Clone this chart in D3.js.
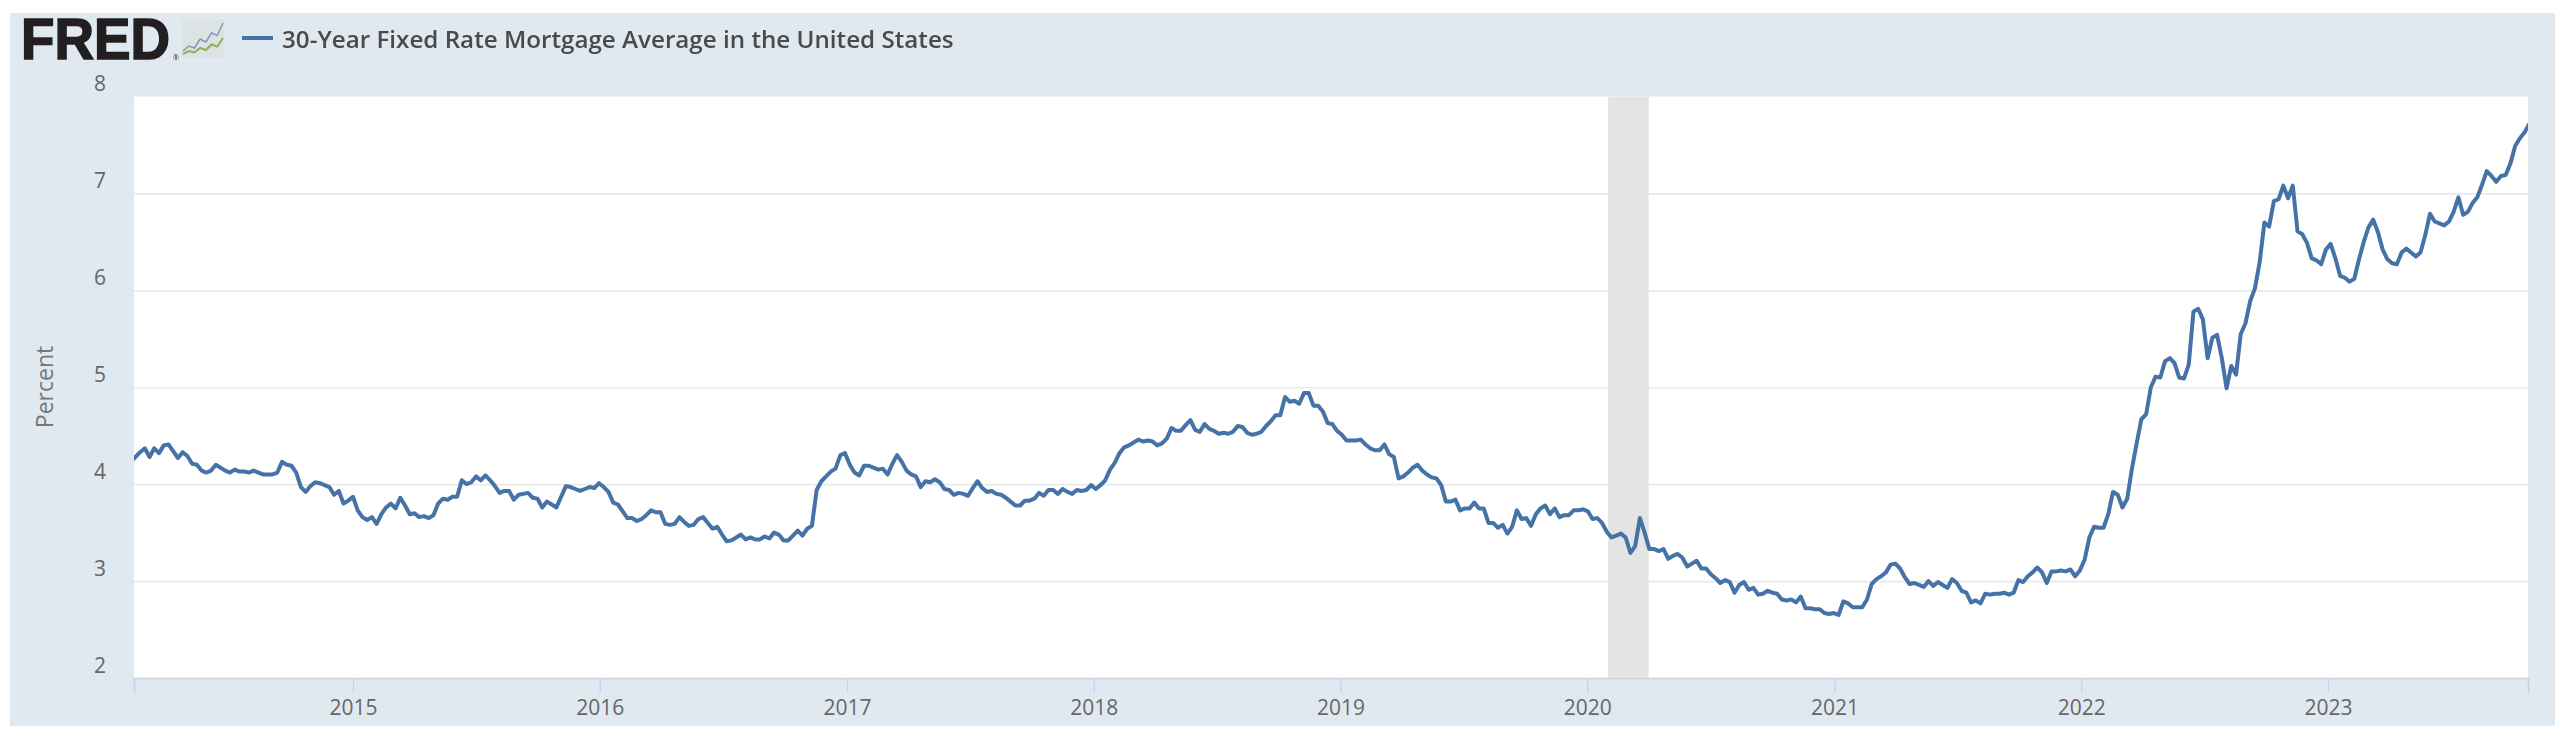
<!DOCTYPE html>
<html>
<head>
<meta charset="utf-8">
<script src="https://cdn.jsdelivr.net/npm/d3@7"></script>
<style>
  html, body { margin: 0; padding: 0; background: #fff; }
  svg { display: block; filter: blur(0.55px); }
  text { font-family: "Open Sans", sans-serif; }
</style>
</head>
<body>
<svg width="2560" height="737"></svg>
<script>
// weekly values, first one is the Thursday 2014-02-06
const rates2014 = [4.23,4.28,4.33,4.37,4.28,4.37,4.32,4.40,4.41,4.34,4.27,4.33,4.29,4.21,4.20,4.14,4.12,4.14,4.20,4.17,4.14,4.12,4.15,4.13,4.13,4.12,4.14,4.12,4.10,4.10,4.10,4.12,4.23,4.20,4.19,4.12,3.97,3.92,3.98,4.02,4.01,3.99,3.97,3.89,3.93,3.80,3.83,3.87];
const rates2015 = [3.73,3.66,3.63,3.66,3.59,3.69,3.76,3.80,3.75,3.86,3.78,3.69,3.70,3.66,3.67,3.65,3.68,3.80,3.85,3.84,3.87,3.87,4.04,4.00,4.02,4.08,4.04,4.09,4.04,3.98,3.91,3.93,3.93,3.84,3.89,3.90,3.91,3.86,3.85,3.76,3.82,3.79,3.76,3.87,3.98,3.97,3.95,3.93,3.95,3.97,3.96,4.01];
const rates2016 = [3.97,3.92,3.81,3.79,3.72,3.65,3.65,3.62,3.64,3.68,3.73,3.71,3.71,3.59,3.58,3.59,3.66,3.61,3.57,3.58,3.64,3.66,3.60,3.54,3.56,3.48,3.41,3.42,3.45,3.48,3.43,3.45,3.43,3.43,3.46,3.44,3.50,3.48,3.42,3.42,3.47,3.52,3.47,3.54,3.57,3.94,4.03,4.08,4.13,4.16,4.30,4.32];
const rates2017 = [4.20,4.12,4.09,4.19,4.19,4.17,4.15,4.16,4.10,4.21,4.30,4.23,4.14,4.10,4.08,3.97,4.03,4.02,4.05,4.02,3.95,3.94,3.89,3.91,3.90,3.88,3.96,4.03,3.96,3.92,3.93,3.90,3.89,3.86,3.82,3.78,3.78,3.83,3.83,3.85,3.91,3.88,3.94,3.94,3.90,3.95,3.92,3.90,3.94,3.93,3.94,3.99];
const rates2018 = [3.95,3.99,4.04,4.15,4.22,4.32,4.38,4.40,4.43,4.46,4.44,4.45,4.44,4.40,4.42,4.47,4.58,4.55,4.55,4.61,4.66,4.56,4.54,4.62,4.57,4.55,4.52,4.53,4.52,4.54,4.60,4.59,4.53,4.51,4.52,4.54,4.60,4.65,4.71,4.71,4.90,4.85,4.86,4.83,4.94,4.94,4.81,4.81,4.75,4.63,4.62,4.55];
const rates2019 = [4.51,4.45,4.45,4.45,4.46,4.41,4.37,4.35,4.35,4.41,4.31,4.28,4.06,4.08,4.12,4.17,4.20,4.14,4.10,4.07,4.06,3.99,3.82,3.82,3.84,3.73,3.75,3.75,3.81,3.75,3.75,3.60,3.60,3.55,3.58,3.49,3.56,3.73,3.64,3.65,3.57,3.69,3.75,3.78,3.69,3.75,3.66,3.68,3.68,3.73,3.73,3.74];
const rates2020 = [3.72,3.64,3.65,3.60,3.51,3.45,3.47,3.49,3.45,3.29,3.36,3.65,3.50,3.33,3.33,3.31,3.33,3.23,3.26,3.28,3.24,3.15,3.18,3.21,3.13,3.13,3.07,3.03,2.98,3.01,2.99,2.88,2.96,2.99,2.91,2.93,2.86,2.87,2.90,2.88,2.87,2.81,2.80,2.81,2.78,2.84,2.72,2.72,2.71,2.71,2.67,2.66,2.67];
const rates2021 = [2.65,2.79,2.77,2.73,2.73,2.73,2.81,2.97,3.02,3.05,3.09,3.17,3.18,3.13,3.04,2.97,2.98,2.96,2.94,3.00,2.95,2.99,2.96,2.93,3.02,2.98,2.90,2.88,2.78,2.80,2.77,2.87,2.86,2.87,2.87,2.88,2.86,2.88,3.01,2.99,3.05,3.09,3.14,3.09,2.98,3.10,3.10,3.11,3.10,3.12,3.05,3.11];
const rates2022 = [3.22,3.45,3.56,3.55,3.55,3.69,3.92,3.89,3.76,3.85,4.16,4.42,4.67,4.72,5.00,5.11,5.10,5.27,5.30,5.25,5.10,5.09,5.23,5.78,5.81,5.70,5.30,5.51,5.54,5.30,4.99,5.22,5.13,5.55,5.66,5.89,6.02,6.29,6.70,6.66,6.92,6.94,7.08,6.95,7.08,6.61,6.58,6.49,6.33,6.31,6.27,6.42];
const rates2023 = [6.48,6.33,6.15,6.13,6.09,6.12,6.32,6.50,6.65,6.73,6.60,6.42,6.32,6.28,6.27,6.39,6.43,6.39,6.35,6.39,6.57,6.79,6.71,6.69,6.67,6.71,6.81,6.96,6.78,6.81,6.90,6.96,7.09,7.23,7.18,7.12,7.18,7.19,7.31,7.49,7.57,7.63,7.72];

const yearTicks = [2015, 2016, 2017, 2018, 2019, 2020, 2021, 2022, 2023];
const percentTicks = [2, 3, 4, 5, 6, 7, 8];
const recession = [new Date(2020, 1, 1), new Date(2020, 3, 1)];
const titleText = '30-Year Fixed Rate Mortgage Average in the United States';

// little sparkline in the logo
const logoBlue = [1, 2, 1.6, 3.4, 2.8, 4.6, 4.1, 6.6];
const logoGreen = [0.4, 1, 0.7, 1.6, 1.2, 2.3, 1.9, 3.6];

let rates = [].concat(rates2014, rates2015, rates2016, rates2017, rates2018, rates2019, rates2020, rates2021, rates2022, rates2023);
let weeks = d3.timeThursday.range(new Date(2014, 1, 6), new Date(2023, 9, 27));
let data = weeks.map((d, i) => ({ date: d, rate: rates[i] }));

let svg = d3.select('svg');
let plot = { left: 134, right: 2528, top: 96.5, bottom: 678 };

let x = d3.scaleTime()
  .domain([new Date(2014, 1, 11), new Date(2023, 9, 24)])
  .range([plot.left, plot.right]);

let y = d3.scaleLinear()
  .domain([2, 8])
  .range([plot.bottom, plot.top]);

// panel + plot area
svg.append('rect').attr('x', 10).attr('y', 13).attr('width', 2545).attr('height', 713).attr('fill', '#e1e9f0');
svg.append('rect')
  .attr('x', plot.left).attr('y', plot.top)
  .attr('width', plot.right - plot.left).attr('height', plot.bottom - plot.top)
  .attr('fill', '#fff');

svg.append('clipPath').attr('id', 'plot-clip').append('rect')
  .attr('x', plot.left).attr('y', plot.top)
  .attr('width', plot.right - plot.left).attr('height', plot.bottom - plot.top);

// gridlines
let grid = svg.append('g')
  .attr('transform', `translate(${plot.left},0)`)
  .call(d3.axisLeft(y).tickValues(percentTicks.slice(1, -1)).tickSize(-(plot.right - plot.left)).tickFormat(''));
grid.select('.domain').remove();
grid.selectAll('line').attr('stroke', '#e9e9e9').attr('stroke-width', 1.6);

// recession band
svg.append('rect')
  .attr('x', x(recession[0])).attr('y', plot.top)
  .attr('width', x(recession[1]) - x(recession[0])).attr('height', plot.bottom - plot.top)
  .attr('fill', '#e4e4e4');

// x axis
let xAxis = svg.append('g')
  .attr('transform', `translate(0,${plot.bottom})`)
  .call(d3.axisBottom(x)
    .tickValues(yearTicks.map(d => new Date(d, 0, 1)))
    .tickSize(15)
    .tickPadding(7)
    .tickFormat(d3.timeFormat('%Y')));
xAxis.select('.domain').attr('stroke', '#c6d3e3').attr('stroke-width', 1.6);
xAxis.selectAll('line').attr('stroke', '#c6d3e3').attr('stroke-width', 1.2);
xAxis.selectAll('text')
  .attr('fill', '#666').attr('font-size', 21)
  .attr('font-family', '"Open Sans", sans-serif');

// y labels sit above their gridline
svg.append('g').selectAll('text')
  .data(percentTicks)
  .enter().append('text')
  .attr('x', 106)
  .attr('y', d => y(d) - 13)
  .attr('dy', '0.36em')
  .attr('text-anchor', 'end')
  .attr('fill', '#666')
  .attr('font-size', 21)
  .text(d => d);

svg.append('text')
  .attr('transform', 'translate(45,387) rotate(-90)')
  .attr('text-anchor', 'middle')
  .attr('dy', '0.36em')
  .attr('fill', '#777')
  .attr('font-size', 23)
  .text('Percent');

// the series
let line = d3.line().x(d => x(d.date)).y(d => y(d.rate));
svg.append('path')
  .datum(data)
  .attr('clip-path', 'url(#plot-clip)')
  .attr('fill', 'none')
  .attr('stroke', '#4572a7')
  .attr('stroke-width', 4)
  .attr('stroke-linejoin', 'round')
  .attr('d', line);

// legend
svg.append('line')
  .attr('x1', 242).attr('x2', 273).attr('y1', 38).attr('y2', 38)
  .attr('stroke', '#4572a7').attr('stroke-width', 4);
svg.append('text')
  .attr('x', 282).attr('y', 39)
  .attr('dy', '0.36em')
  .attr('fill', '#4a4a4a')
  .attr('font-size', 24.2)
  .attr('font-weight', 600)
  .text(titleText);

// FRED logo
let logo = svg.append('g');
logo.append('text')
  .attr('x', 21).attr('y', 58.5)
  .attr('textLength', 149)
  .attr('lengthAdjust', 'spacingAndGlyphs')
  .attr('fill', '#231f20')
  .attr('stroke', '#231f20')
  .attr('stroke-width', 1.6)
  .attr('font-size', 57)
  .style('font-family', '"Liberation Sans", sans-serif')
  .attr('font-weight', 700)
  .text('FRED');
logo.append('text')
  .attr('x', 173).attr('y', 60)
  .attr('fill', '#231f20')
  .attr('font-size', 7)
  .text('®');

let iconX = d3.scaleLinear().domain([0, logoBlue.length - 1]).range([183, 223]);
let iconY = d3.scaleLinear().domain([0, 7]).range([56, 21]);
let iconLine = d3.line().x((d, i) => iconX(i)).y(d => iconY(d));
logo.append('rect').attr('x', 182).attr('y', 20).attr('width', 42).attr('height', 38).attr('fill', '#dde3e2');
logo.append('path').attr('d', iconLine(logoBlue)).attr('fill', 'none').attr('stroke', '#7d9cbc').attr('stroke-width', 1.5);
logo.append('path').attr('d', iconLine(logoGreen)).attr('fill', 'none').attr('stroke', '#8fae5e').attr('stroke-width', 2);
</script>
</body>
</html>
